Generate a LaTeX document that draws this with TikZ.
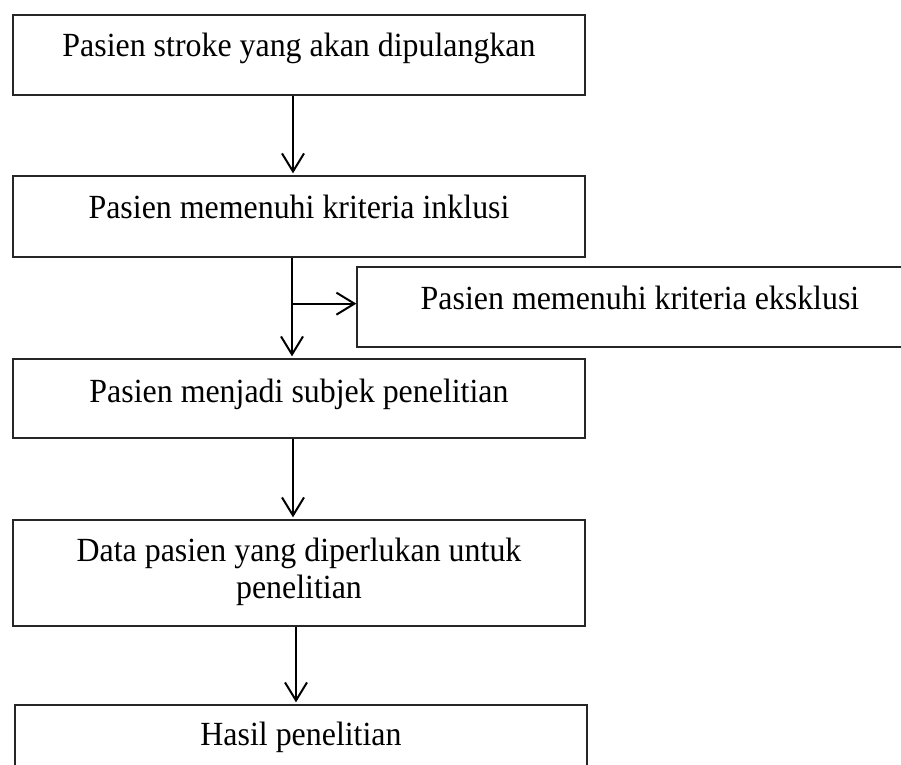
\documentclass[tikz,border=0pt]{standalone}
\usepackage{fontspec}
\setmainfont{Liberation Serif}
\usetikzlibrary{arrows.meta}
\newcommand{\stretchtxt}[1]{\scalebox{1}[1.06]{#1}}
\tikzset{
  box/.style={draw=black!85, line width=1.3pt, rectangle, inner sep=0pt},
  txt/.style={anchor=base, inner sep=0pt, font=\fontsize{31.9}{37}\selectfont, align=center},
  conn/.style={line width=2pt, -{Straight Barb[length=18pt, width=22pt, line width=2pt]}, shorten >=2pt},
}
\begin{document}
\begin{tikzpicture}[x=1pt, y=-1pt]
\useasboundingbox (0,0) rectangle (901,764);
\clip (0,0) rectangle (901,764);
% boxes
\node[box, minimum width=572pt, minimum height=80pt] (b1) at (299,55) {};
\node[box, minimum width=572pt, minimum height=81pt] (b2) at (299,216.5) {};
\node[box, minimum width=600pt, minimum height=80pt] (ex) at (657,307) {};
\node[box, minimum width=572pt, minimum height=79pt] (b3) at (299,398.5) {};
\node[box, minimum width=572pt, minimum height=106pt] (b4) at (299,573) {};
\node[box, minimum width=572pt, minimum height=100pt] (b5) at (301,755) {};
% texts
\node[txt] (t1) at (299,56) {\stretchtxt{Pasien stroke yang akan dipulangkan}};
\node[txt] (t2) at (299,218) {\stretchtxt{Pasien memenuhi kriteria inklusi}};
\node[txt] (tx) at (640,309) {\stretchtxt{Pasien memenuhi kriteria eksklusi}};
\node[txt] (t3) at (299,402) {\stretchtxt{Pasien menjadi subjek penelitian}};
\node[txt] (t4a) at (299,561) {\stretchtxt{Data pasien yang diperlukan untuk}};
\node[txt] (t4b) at (299,598) {\stretchtxt{penelitian}};
\node[txt] (t5) at (301,745) {\stretchtxt{Hasil penelitian}};
% connectors
\draw[conn] ([xshift=-6pt]b1.south) -- ([xshift=-6pt]b2.north);
\draw[conn] ([xshift=-7pt]b2.south) -- ([xshift=-7pt]b3.north);
\coordinate (br) at ([xshift=-7pt, yshift=-46pt]b2.south);
\draw[conn, shorten >=0pt] (br) -- (br -| ex.west);
\draw[conn] ([xshift=-6pt]b3.south) -- ([xshift=-6pt]b4.north);
\draw[conn] ([xshift=-3pt]b4.south) -- ([xshift=-5pt]b5.north);
\end{tikzpicture}
\end{document}
